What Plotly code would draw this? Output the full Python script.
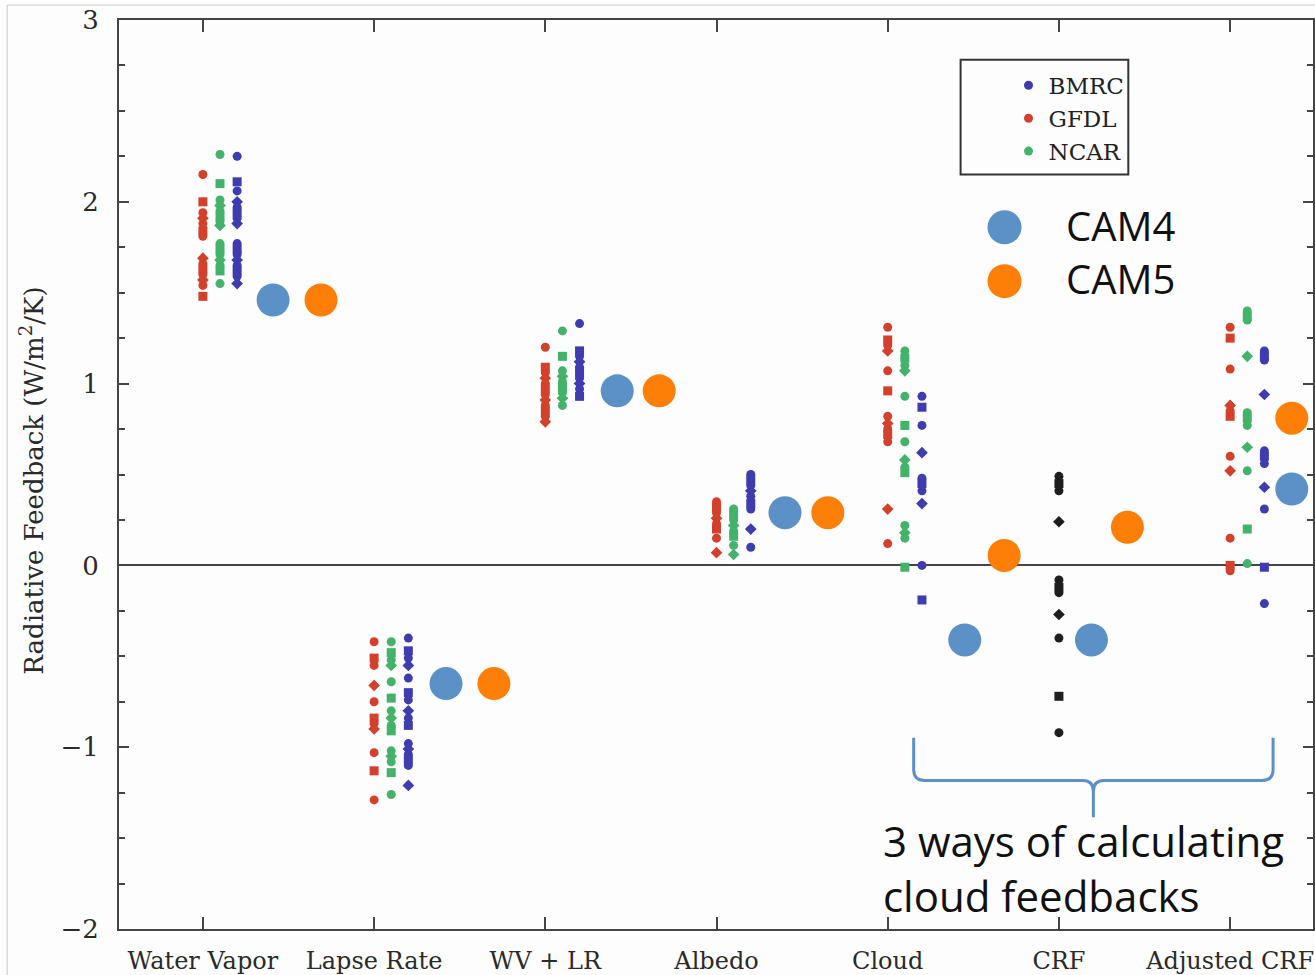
import plotly.graph_objects as go

# ---- data -----------------------------------------------------------------
categories = ["Water Vapor", "Lapse Rate", "WV + LR", "Albedo", "Cloud", "CRF", "Adjusted CRF"]

gfdl = [
    [2.15, 2.00, 1.94, 1.91, 1.88, 1.84, 1.81, 1.69, 1.66, 1.63, 1.60, 1.57, 1.54, 1.48],
    [-0.42, -0.51, -0.55, -0.66, -0.75, -0.84, -0.87, -0.90, -1.03, -1.13, -1.29],
    [1.20, 1.09, 1.06, 1.03, 1.00, 0.97, 0.94, 0.91, 0.88, 0.85, 0.82, 0.79],
    [0.35, 0.32, 0.29, 0.26, 0.23, 0.20, 0.15, 0.07],
    [1.31, 1.24, 1.21, 1.18, 1.07, 0.96, 0.82, 0.78, 0.75, 0.72, 0.68, 0.31, 0.12],
    [],
    [1.31, 1.25, 1.08, 0.88, 0.85, 0.82, 0.60, 0.52, 0.15, 0.00, -0.03],
]
ncar = [
    [2.26, 2.10, 2.01, 1.98, 1.95, 1.92, 1.89, 1.87, 1.77, 1.74, 1.71, 1.68, 1.65, 1.62, 1.55],
    [-0.42, -0.48, -0.52, -0.55, -0.64, -0.73, -0.80, -0.84, -0.88, -0.91, -1.02, -1.05, -1.08, -1.14, -1.26],
    [1.29, 1.15, 1.07, 1.04, 1.01, 0.98, 0.95, 0.92, 0.88],
    [0.31, 0.28, 0.25, 0.22, 0.19, 0.16, 0.11, 0.06],
    [1.18, 1.14, 1.10, 1.07, 0.93, 0.77, 0.68, 0.58, 0.54, 0.51, 0.22, 0.18, 0.15, -0.01],
    [],
    [1.40, 1.37, 1.35, 1.15, 0.84, 0.81, 0.77, 0.65, 0.52, 0.20, 0.01],
]
bmrc = [
    [2.25, 2.11, 2.06, 2.00, 1.97, 1.94, 1.91, 1.88, 1.77, 1.74, 1.71, 1.68, 1.65, 1.62, 1.59, 1.55],
    [-0.40, -0.47, -0.51, -0.55, -0.62, -0.70, -0.74, -0.80, -0.84, -0.88, -0.98, -1.01, -1.04, -1.07, -1.10, -1.21],
    [1.33, 1.18, 1.15, 1.12, 1.09, 1.06, 1.03, 1.00, 0.97, 0.93],
    [0.50, 0.47, 0.44, 0.41, 0.38, 0.34, 0.31, 0.20, 0.10],
    [0.93, 0.87, 0.77, 0.62, 0.48, 0.45, 0.41, 0.34, 0.00, -0.19],
    [],
    [1.18, 1.15, 1.13, 0.94, 0.63, 0.60, 0.56, 0.43, 0.31, -0.01, -0.21],
]
# CRF estimates (all models, black)
crf_all = [0.49, 0.45, 0.41, 0.24, -0.08, -0.12, -0.15, -0.27, -0.40, -0.72, -0.92]

cam4 = [1.46, -0.65, 0.96, 0.29, -0.41, -0.41, 0.42]
cam5 = [1.46, -0.65, 0.96, 0.29, 0.055, 0.21, 0.81]

# ---- layout helpers ---------------------------------------------------------
W, H = 1315, 975
ML, MR, MT, MB = 119, 0, 20, 43
PW, PH = W - ML - MR, H - MT - MB
XR = [0.51, 7.484]
YR = [-2, 3]

def px_x(px):
    return (px - ML) / PW

def px_y(py):
    return (H - MB - py) / PH

def dx(px):
    return XR[0] + (px - ML) / PW * (XR[1] - XR[0])

def dy(py):
    return YR[0] + (H - MB - py) / PH * (YR[1] - YR[0])

model_offset = {"GFDL": 0.0, "NCAR": 0.1, "BMRC": 0.2}
cam4_offset = [0.41, 0.42, 0.42, 0.40, 0.45, 0.19, 0.36]
cam5_offset = [0.69, 0.70, 0.665, 0.65, 0.68, 0.40, 0.36]
SYMS = ["circle", "square", "circle", "diamond"]

C_BMRC = "#3e3cae"
C_GFDL = "#d3402c"
C_NCAR = "#43b26a"
C_CAM4 = "#5b91c7"
C_CAM5 = "#fe7f08"
AX = "#454545"


def model_trace(name, values, offset, color, show=True):
    xs, ys, syms = [], [], []
    for i, vals in enumerate(values):
        for j, v in enumerate(vals):
            xs.append(i + 1 + offset)
            ys.append(v)
            syms.append(SYMS[j % len(SYMS)])
    return go.Scatter(
        x=xs, y=ys, mode="markers", name=name, showlegend=show,
        marker=dict(color=color, size=9, symbol=syms, line=dict(width=0)),
        hoverinfo="skip",
    )


fig = go.Figure()
fig.add_trace(model_trace("BMRC", bmrc, model_offset["BMRC"], C_BMRC))
fig.add_trace(model_trace("GFDL", gfdl, model_offset["GFDL"], C_GFDL))
fig.add_trace(model_trace("NCAR", ncar, model_offset["NCAR"], C_NCAR))

crf_idx = categories.index("CRF")
fig.add_trace(go.Scatter(
    x=[crf_idx + 1] * len(crf_all), y=crf_all, mode="markers", showlegend=False,
    marker=dict(color="#1e1e1e", size=9,
                symbol=[SYMS[j % len(SYMS)] for j in range(len(crf_all))]),
))

fig.add_trace(go.Scatter(
    x=[i + 1 + o for i, o in enumerate(cam4_offset)], y=cam4, mode="markers",
    showlegend=False, marker=dict(color=C_CAM4, size=33, line=dict(width=0)),
))
fig.add_trace(go.Scatter(
    x=[i + 1 + o for i, o in enumerate(cam5_offset)], y=cam5, mode="markers",
    showlegend=False, marker=dict(color=C_CAM5, size=33, line=dict(width=0)),
))

serif = "DejaVu Serif"
sans = "Open Sans"

shapes = [
    # outer thin frame of the figure
    dict(type="rect", xref="paper", yref="paper", x0=px_x(7), x1=px_x(1340),
         y0=px_y(1000), y1=px_y(5), line=dict(color="#c9c9c9", width=1)),
    # box around the model legend
    dict(type="rect", xref="paper", yref="paper", x0=px_x(962), x1=px_x(1130),
         y0=px_y(175), y1=px_y(60), line=dict(color="#333333", width=2)),
    # CAM legend keys
    dict(type="circle", xref="paper", yref="paper", xsizemode="pixel", ysizemode="pixel",
         xanchor=px_x(1006), yanchor=px_y(228), x0=-17, x1=17, y0=-17, y1=17,
         fillcolor=C_CAM4, line=dict(width=0)),
    dict(type="circle", xref="paper", yref="paper", xsizemode="pixel", ysizemode="pixel",
         xanchor=px_x(1006), yanchor=px_y(282), x0=-17, x1=17, y0=-17, y1=17,
         fillcolor=C_CAM5, line=dict(width=0)),
]

# brace grouping the three cloud feedback estimates
pts = (f"M {dx(915)},{dy(740)} L {dx(915)},{dy(772)} "
       f"Q {dx(915)},{dy(783)} {dx(926)},{dy(783)} L {dx(1084)},{dy(783)} "
       f"Q {dx(1095)},{dy(783)} {dx(1095)},{dy(794)} L {dx(1095)},{dy(820)} "
       f"M {dx(1095)},{dy(794)} Q {dx(1095)},{dy(783)} {dx(1106)},{dy(783)} "
       f"L {dx(1264)},{dy(783)} Q {dx(1275)},{dy(783)} {dx(1275)},{dy(772)} "
       f"L {dx(1275)},{dy(740)}")
shapes.append(dict(type="path", xref="x", yref="y", path=pts,
                   line=dict(color="#5f8fca", width=3)))

annotations = [
    dict(text="Radiative Feedback (W/m<sup>2</sup>/K)", xref="paper", yref="paper",
         x=px_x(32), y=px_y(482), textangle=-90, showarrow=False,
         xanchor="center", yanchor="middle", font=dict(family=serif, size=26, color="#2a2a2a")),
    dict(text="CAM4", xref="paper", yref="paper", x=px_x(1066), y=px_y(226),
         xanchor="left", yanchor="middle", showarrow=False,
         font=dict(family=sans, size=40, color="#111111")),
    dict(text="CAM5", xref="paper", yref="paper", x=px_x(1066), y=px_y(279),
         xanchor="left", yanchor="middle", showarrow=False,
         font=dict(family=sans, size=40, color="#111111")),
    dict(text="3 ways of calculating<br>cloud feedbacks", xref="paper", yref="paper",
         x=px_x(882), y=px_y(871), xanchor="left", yanchor="middle", align="left",
         showarrow=False, font=dict(family=sans, size=42, color="#111111")),
]

fig.update_layout(
    width=W, height=H,
    margin=dict(l=ML, r=MR, t=MT, b=MB),
    paper_bgcolor="#fdfdfd", plot_bgcolor="#fdfdfd",
    shapes=shapes, annotations=annotations,
    showlegend=True,
    legend=dict(x=px_x(1010), y=px_y(64), xanchor="left", yanchor="top",
                bgcolor="rgba(0,0,0,0)", borderwidth=0,
                font=dict(family=serif, size=23, color="#222222"),
                itemsizing="trace"),
    xaxis=dict(range=XR, tickvals=list(range(1, len(categories) + 1)), ticktext=categories,
               showgrid=False, zeroline=False, showline=True, linecolor=AX, linewidth=2,
               mirror="allticks", ticks="inside", ticklen=12, tickwidth=1.5, tickcolor=AX,
               ticklabelstandoff=9, ticklabeloverflow="allow",
               tickfont=dict(family=serif, size=24, color="#2a2a2a")),
    yaxis=dict(range=YR, tickvals=[-2, -1, 0, 1, 2, 3], ticktext=["\u22122", "\u22121", "0", "1", "2", "3"],
               showgrid=False, zeroline=True, zerolinecolor=AX, zerolinewidth=2,
               showline=True, linecolor=AX, linewidth=2, mirror="allticks",
               ticks="inside", ticklen=10, tickwidth=1.5, tickcolor=AX,
               minor=dict(dtick=0.25, tick0=0, ticks="inside", ticklen=6, tickwidth=1.5, tickcolor=AX),
               ticklabelstandoff=13, ticklabeloverflow="allow",
               tickfont=dict(family=serif, size=26, color="#2a2a2a")),
)

fig.write_html("out.html")
